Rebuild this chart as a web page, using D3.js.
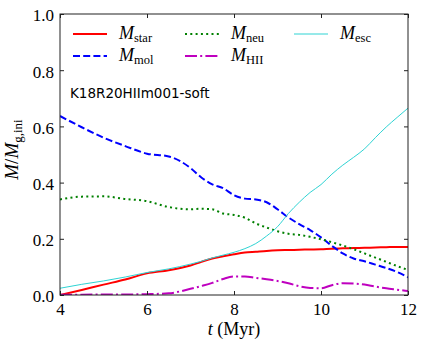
<!DOCTYPE html>
<html>
<head>
<meta charset="utf-8">
<script src="https://cdn.jsdelivr.net/npm/d3@7"></script>
<style>
  body { margin: 0; background: #fff; }
  svg { display: block; }
</style>
</head>
<body>
<div id="chart"></div>
<script>
// time grid (Myr)
const times = [4, 4.5, 5, 5.5, 6, 6.5, 7, 7.25, 7.5, 7.75, 8, 8.25, 8.5, 8.75, 9,
  9.25, 9.5, 9.75, 10, 10.25, 10.5, 10.75, 11, 11.25, 11.5, 11.75, 12];

const mStar = [0.000, 0.018, 0.037, 0.055, 0.077, 0.088, 0.105, 0.118, 0.130, 0.138, 0.145,
  0.151, 0.154, 0.157, 0.159, 0.160, 0.161, 0.162, 0.163, 0.165, 0.166, 0.167, 0.168,
  0.169, 0.170, 0.171, 0.171];
const mMol = [0.637, 0.597, 0.560, 0.530, 0.503, 0.493, 0.452, 0.418, 0.394, 0.380, 0.355,
  0.343, 0.340, 0.330, 0.305, 0.276, 0.252, 0.231, 0.205, 0.175, 0.148, 0.130, 0.120,
  0.108, 0.096, 0.082, 0.063];
const mNeu = [0.340, 0.350, 0.351, 0.342, 0.334, 0.313, 0.305, 0.307, 0.305, 0.290, 0.285,
  0.275, 0.255, 0.240, 0.227, 0.218, 0.214, 0.207, 0.198, 0.188, 0.176, 0.163, 0.148,
  0.133, 0.118, 0.103, 0.089];
const mHII = [0.001, 0.001, 0.002, 0.002, 0.003, 0.006, 0.022, 0.032, 0.043, 0.057, 0.066,
  0.066, 0.061, 0.056, 0.050, 0.042, 0.031, 0.025, 0.024, 0.035, 0.042, 0.041, 0.037,
  0.030, 0.024, 0.019, 0.014];
const mEsc = [0.024, 0.038, 0.050, 0.064, 0.080, 0.093, 0.110, 0.120, 0.132, 0.142, 0.152,
  0.165, 0.183, 0.210, 0.243, 0.290, 0.330, 0.365, 0.393, 0.430, 0.462, 0.490, 0.520,
  0.560, 0.598, 0.632, 0.665];

const xTicks = [4, 6, 8, 10, 12];
const yTicks = [0, 0.2, 0.4, 0.6, 0.8, 1.0];

const series = [
  { sub: "star", values: mStar, color: "#ff0000", width: 2, dash: null },
  { sub: "mol", values: mMol, color: "#0000ff", width: 2, dash: "7,3.2" },
  { sub: "neu", values: mNeu, color: "#008000", width: 2, dash: "2,3.3" },
  { sub: "HII", values: mHII, color: "#bf00bf", width: 2, dash: "12,3.2,2,3.2" },
  { sub: "esc", values: mEsc, color: "#2ed3d3", width: 1, dash: null }
];

const serif = "'Liberation Serif', 'Times New Roman', serif";

const width = 425, height = 349;
const margin = { top: 14, right: 17, bottom: 54, left: 60 };
const w = width - margin.left - margin.right;
const h = height - margin.top - margin.bottom;

const svg = d3.select("#chart").append("svg")
  .attr("width", width)
  .attr("height", height);

const g = svg.append("g")
  .attr("transform", "translate(" + margin.left + "," + margin.top + ")");

const x = d3.scaleLinear().domain([4, 12]).range([0, w]);
const y = d3.scaleLinear().domain([0, 1]).range([h, 0]);

g.append("defs").append("clipPath").attr("id", "clip")
  .append("rect").attr("width", w).attr("height", h);

// lines
const line = d3.line()
  .x(function(d) { return x(d[0]); })
  .y(function(d) { return y(d[1]); })
  .curve(d3.curveMonotoneX);

const plot = g.append("g").attr("clip-path", "url(#clip)");
series.forEach(function(s) {
  plot.append("path")
    .datum(times.map(function(t, i) { return [t, s.values[i]]; }))
    .attr("fill", "none")
    .attr("stroke", s.color)
    .attr("stroke-width", s.width)
    .attr("stroke-dasharray", s.dash)
    .attr("d", line);
});

// axes, ticks pointing inward on all sides
const fmt = d3.format(".1f");
const axisStyle = function(sel) {
  sel.attr("font-family", null).attr("font-size", null);
  sel.select(".domain").remove();
  sel.selectAll(".tick line").attr("stroke", "#222");
  sel.selectAll(".tick text")
    .style("font-family", serif)
    .style("font-size", "17px")
    .attr("fill", "#000");
};

g.append("g")
  .attr("transform", "translate(0," + h + ")")
  .call(d3.axisBottom(x).tickValues(xTicks).tickSize(-4).tickPadding(8).tickFormat(d3.format("d")))
  .call(axisStyle);

g.append("g")
  .call(d3.axisTop(x).tickValues(xTicks).tickSize(-4).tickFormat(""))
  .call(axisStyle);

g.append("g")
  .call(d3.axisLeft(y).tickValues(yTicks).tickSize(-4).tickPadding(6).tickFormat(fmt))
  .call(axisStyle)
  .selectAll("text").attr("dy", "0.4em");

g.append("g")
  .attr("transform", "translate(" + w + ",0)")
  .call(d3.axisRight(y).tickValues(yTicks).tickSize(-4).tickFormat(""))
  .call(axisStyle);

g.append("rect")
  .attr("width", w).attr("height", h)
  .attr("fill", "none").attr("stroke", "#222").attr("stroke-width", 1);

// legend
const legendPos = [[13, 20], [13, 42], [125, 20], [125, 42], [234, 20]];
const legend = g.append("g");
series.forEach(function(s, i) {
  const p = legendPos[i];
  legend.append("line")
    .attr("x1", p[0]).attr("x2", p[0] + 34)
    .attr("y1", p[1]).attr("y2", p[1])
    .attr("stroke", s.color)
    .attr("stroke-width", s.width)
    .attr("stroke-dasharray", s.dash);
  const t = legend.append("text")
    .attr("x", p[0] + 46).attr("y", p[1] + 5)
    .style("font-family", serif)
    .attr("fill", "#000");
  t.append("tspan").attr("font-style", "italic").attr("font-size", 18).text("M");
  t.append("tspan").attr("font-size", 12.5).attr("dy", 3).text(s.sub);
});

g.append("text")
  .attr("x", 10).attr("y", 84)
  .style("font-family", "'DejaVu Sans', sans-serif")
  .attr("font-size", 13.5)
  .attr("fill", "#000")
  .text("K18R20HIIm001-soft");

// axis labels
const xl = svg.append("text")
  .attr("x", margin.left + w / 2).attr("y", 335)
  .attr("text-anchor", "middle")
  .style("font-family", serif)
  .attr("font-size", 18);
xl.append("tspan").attr("font-style", "italic").text("t");
xl.append("tspan").text(" (Myr)");

const yl = svg.append("text")
  .attr("transform", "translate(18," + (margin.top + h / 2 - 5) + ") rotate(-90)")
  .attr("text-anchor", "middle")
  .style("font-family", serif)
  .attr("font-size", 19);
yl.append("tspan").attr("font-style", "italic").text("M");
yl.append("tspan").text("/");
yl.append("tspan").attr("font-style", "italic").text("M");
yl.append("tspan").attr("font-size", 13).attr("dy", 4).text("g,ini");
</script>
</body>
</html>
